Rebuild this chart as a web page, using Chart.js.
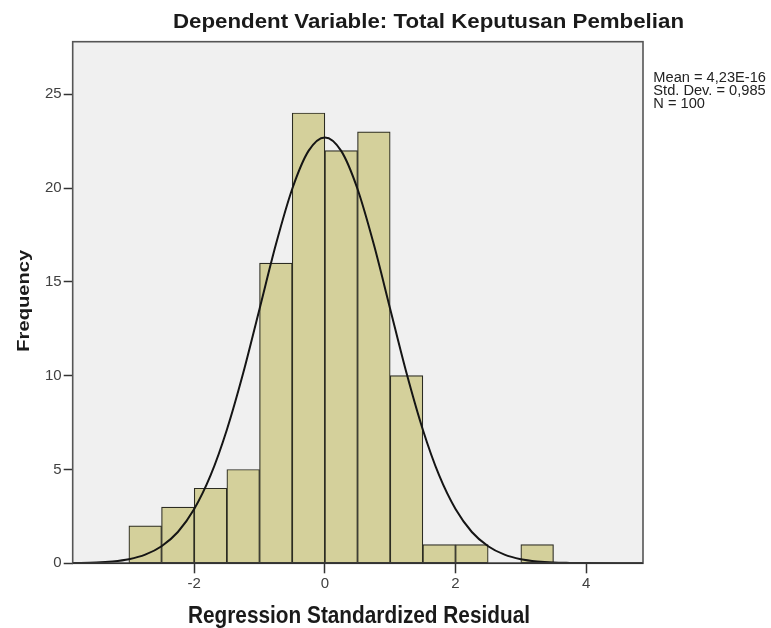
<!DOCTYPE html>
<html>
<head>
<meta charset="utf-8">
<script src="https://cdn.jsdelivr.net/npm/chart.js@4.4.0/dist/chart.umd.min.js"></script>
<style>
    html, body { margin: 0; padding: 0; background: #fff; }
    canvas { display: block; }
</style>
</head>
<body>
<canvas id="histogram" width="771" height="628"></canvas>
<script>
// Histogram bins (width 0.5) and counts
const binCenters = [-2.75, -2.25, -1.75, -1.25, -0.75, -0.25, 0.25, 0.75, 1.25, 1.75, 2.25, 2.75, 3.25];
const frequencies = [2, 3, 4, 5, 16, 24, 22, 23, 10, 1, 1, 0, 1];

// Normal curve
const curveX = [-3.86, -3.5, -3.25, -3, -2.75, -2.5, -2.25, -2, -1.75, -1.5, -1.25, -1, -0.75, -0.5, -0.25, 0,
    0.25, 0.5, 0.75, 1, 1.25, 1.5, 1.75, 2, 2.25, 2.5, 2.75, 3, 3.25, 3.5, 3.75, 4, 4.5, 4.87];
const curveY = [0.01, 0.04, 0.10, 0.22, 0.46, 0.91, 1.67, 2.89, 4.68, 7.12, 10.14, 13.56, 16.99, 19.95, 21.98, 22.7,
    21.98, 19.95, 16.99, 13.56, 10.14, 7.12, 4.68, 2.89, 1.67, 0.91, 0.46, 0.22, 0.10, 0.04, 0.02, 0.01, 0, 0];

// Axes
const xTicks = [-2, 0, 2, 4];
const yTicks = [0, 5, 10, 15, 20, 25];
const xRange = [-3.86, 4.87];
const yRange = [0, 27.8];

// Texts
const chartTitle = 'Dependent Variable: Total Keputusan Pembelian';
const xTitle = 'Regression Standardized Residual';
const yTitle = 'Frequency';
const statsLines = ['Mean = 4,23E-16', 'Std. Dev. = 0,985', 'N = 100'];

const FONT = '"Liberation Sans", Arial, sans-serif';

// Draw text squeezed/stretched to a given width
function drawFitted(ctx, text, x, y, font, width) {
    ctx.save();
    ctx.font = font;
    const w = ctx.measureText(text).width;
    ctx.translate(x, y);
    ctx.scale(width / w, 1);
    ctx.textAlign = 'left';
    ctx.textBaseline = 'alphabetic';
    ctx.fillText(text, 0, 0);
    ctx.restore();
}

const framePlugin = {
    id: 'frame',
    beforeDraw(chart) {
        const { ctx, chartArea: a } = chart;
        ctx.save();
        ctx.fillStyle = '#f0f0f0';
        ctx.fillRect(a.left, a.top, a.right - a.left, a.bottom - a.top);
        ctx.restore();
    },
    afterDatasetsDraw(chart) {
        const { ctx, chartArea: a } = chart;
        ctx.save();
        ctx.strokeStyle = '#555';
        ctx.lineWidth = 1.6;
        ctx.strokeRect(a.left, a.top, a.right - a.left, a.bottom - a.top);
        ctx.beginPath();
        ctx.strokeStyle = '#333';
        ctx.moveTo(a.left, a.bottom);
        ctx.lineTo(a.right, a.bottom);
        ctx.stroke();
        ctx.restore();
    },
    afterDraw(chart) {
        const ctx = chart.ctx;
        ctx.save();
        ctx.fillStyle = '#1a1a1a';
        drawFitted(ctx, chartTitle, 173, 28.3, 'bold 21px ' + FONT, 511);
        drawFitted(ctx, xTitle, 188, 623, 'bold 23px ' + FONT, 342);

        // y title, rotated
        ctx.save();
        ctx.translate(28.5, 351.7);
        ctx.rotate(-Math.PI / 2);
        drawFitted(ctx, yTitle, 0, 0, 'bold 17px ' + FONT, 102);
        ctx.restore();

        // stats box
        ctx.fillStyle = '#222';
        ctx.font = '13px ' + FONT;
        const sx = 112.7 / ctx.measureText(statsLines[0]).width;
        statsLines.forEach((line, i) => {
            ctx.save();
            ctx.translate(653.3, 81.7 + i * 13);
            ctx.scale(sx, 1.08);
            ctx.fillText(line, 0, 0);
            ctx.restore();
        });
        ctx.restore();
    }
};

const ctx = document.getElementById('histogram').getContext('2d');
new Chart(ctx, {
    type: 'bar',
    data: {
        datasets: [
            {
                type: 'line',
                data: curveX.map((x, i) => ({ x, y: curveY[i] })),
                borderColor: '#151515',
                borderWidth: 2,
                pointRadius: 0,
                fill: false,
                cubicInterpolationMode: 'monotone',
                order: 0
            },
            {
                type: 'bar',
                data: binCenters.map((x, i) => ({ x, y: frequencies[i] })),
                backgroundColor: '#d4d09b',
                borderColor: '#2c2c22',
                borderWidth: 1.2,
                borderSkipped: false,
                barPercentage: 1,
                categoryPercentage: 1,
                order: 1
            }
        ]
    },
    options: {
        responsive: false,
        animation: false,
        events: [],
        layout: {
            padding: { top: 41.7, right: 771 - 643, left: 0, bottom: 0 }
        },
        plugins: {
            legend: { display: false },
            title: { display: false },
            tooltip: { enabled: false }
        },
        scales: {
            x: {
                type: 'linear',
                offset: false,
                min: xRange[0],
                max: xRange[1],
                afterBuildTicks: scale => { scale.ticks = xTicks.map(v => ({ value: v })); },
                afterFit: scale => { scale.height = 628 - 563.3; },
                grid: {
                    offset: false,
                    drawOnChartArea: false,
                    drawTicks: true,
                    tickLength: 10,
                    tickColor: '#333',
                    tickWidth: 1.5
                },
                border: { display: false },
                ticks: {
                    autoSkip: false,
                    maxRotation: 0,
                    padding: 2,
                    color: '#404040',
                    font: { family: FONT, size: 15 },
                    callback: v => String(v)
                }
            },
            y: {
                min: yRange[0],
                max: yRange[1],
                afterBuildTicks: scale => { scale.ticks = yTicks.map(v => ({ value: v })); },
                afterFit: scale => { scale.width = 72.7; },
                grid: {
                    drawOnChartArea: false,
                    drawTicks: true,
                    tickLength: 9,
                    tickColor: '#333',
                    tickWidth: 1.5
                },
                border: { display: false },
                ticks: {
                    autoSkip: false,
                    padding: 2,
                    color: '#404040',
                    font: { family: FONT, size: 15 },
                    callback: v => String(v)
                }
            }
        }
    },
    plugins: [framePlugin]
});
</script>
</body>
</html>
